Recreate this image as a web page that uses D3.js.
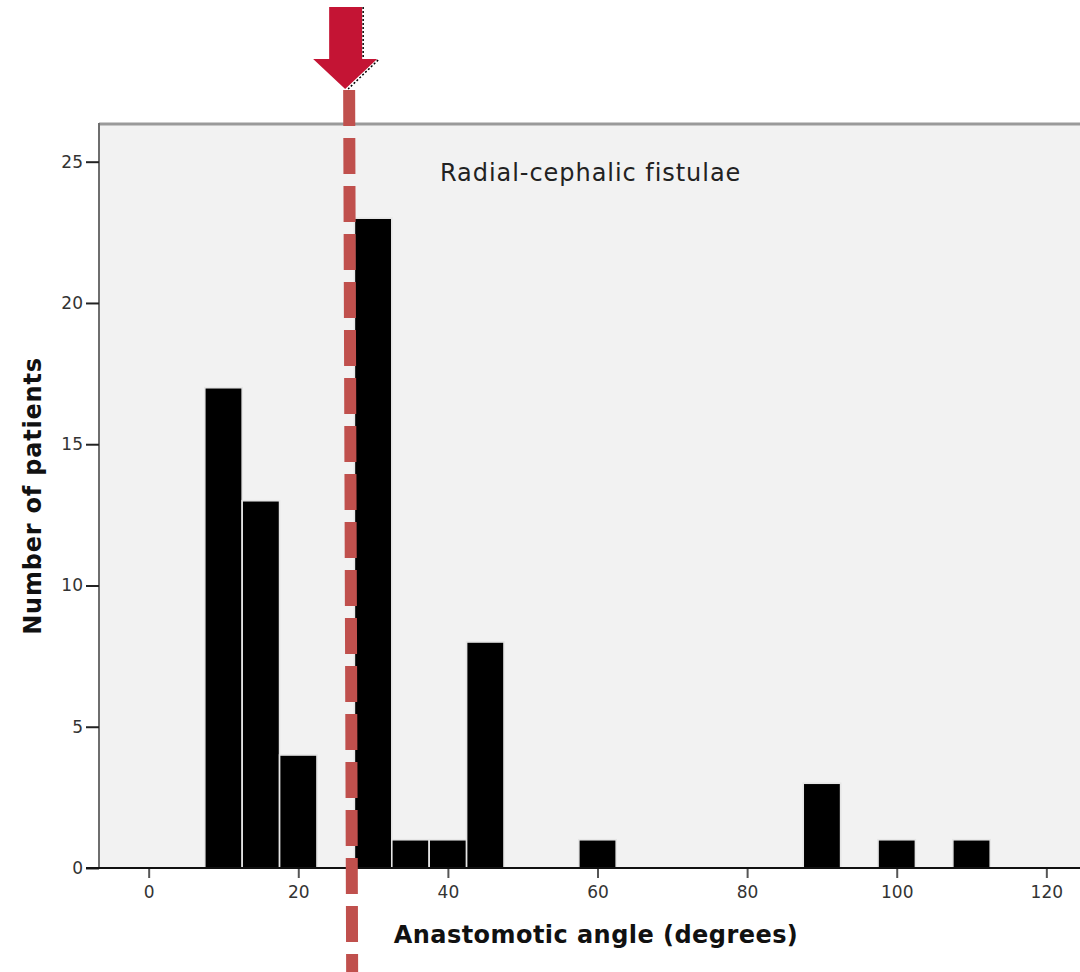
<!DOCTYPE html>
<html>
<head>
<meta charset="utf-8">
<script src="https://cdn.jsdelivr.net/npm/d3@7"></script>
<style>
  html, body { margin: 0; padding: 0; background: #ffffff; }
  svg { display: block; }
</style>
</head>
<body>
<svg id="chart" width="1080" height="972"></svg>
<script>
// Histogram of anastomotic angles, 5-degree bins (bin centres in degrees)
const binCentres = [10, 15, 20, 30, 35, 40, 45, 60, 90, 100, 110];
const patientCounts = [17, 13, 4, 23, 1, 1, 8, 1, 3, 1, 1];
const binWidth = 5;
const xTicks = [0, 20, 40, 60, 80, 100, 120];
const yTicks = [0, 5, 10, 15, 20, 25];
const markerAngle = 26.8;   // threshold marked by the red dashed line
const titleText = "Radial-cephalic fistulae";
const xLabel = "Anastomotic angle (degrees)";
const yLabel = "Number of patients";

const svg = d3.select("#chart");
const font = "'DejaVu Sans', Verdana, sans-serif";

const plot = { left: 99, top: 125, right: 1080, bottom: 868 };

const x = d3.scaleLinear().domain([-6.64, 124.5]).range([plot.left, plot.right]);
const y = d3.scaleLinear().domain([0, 25]).range([plot.bottom, 161.7]);

// plot background
svg.append("rect")
  .attr("x", plot.left).attr("y", plot.top)
  .attr("width", plot.right - plot.left).attr("height", plot.bottom - plot.top)
  .attr("fill", "#f2f2f2");

// frame: top and left edges
svg.append("line")
  .attr("x1", plot.left).attr("x2", plot.right)
  .attr("y1", plot.top - 1).attr("y2", plot.top - 1)
  .attr("stroke", "#9a9a9a").attr("stroke-width", 3);
svg.append("line")
  .attr("x1", plot.left).attr("x2", plot.left)
  .attr("y1", plot.top - 2).attr("y2", plot.bottom)
  .attr("stroke", "#6e6e6e").attr("stroke-width", 2);

// bars
const bins = binCentres.map((c, i) => ({ c, n: patientCounts[i] }));
svg.append("g").selectAll("rect").data(bins).join("rect")
  .attr("x", d => x(d.c - binWidth / 2))
  .attr("y", d => y(d.n))
  .attr("width", d => x(d.c + binWidth / 2) - x(d.c - binWidth / 2))
  .attr("height", d => y(0) - y(d.n))
  .attr("fill", "#000")
  .attr("stroke", "#e6e6e6")
  .attr("stroke-width", 1.6);

// x axis
const xAxis = svg.append("g")
  .attr("transform", `translate(0,${plot.bottom})`)
  .call(d3.axisBottom(x).tickValues(xTicks).tickSize(10).tickPadding(8).tickFormat(d3.format("d")));
xAxis.select(".domain").remove();
xAxis.selectAll(".tick line").attr("stroke", "#555").attr("stroke-width", 2);
xAxis.selectAll(".tick text")
  .attr("font-family", font).attr("font-size", 17).attr("fill", "#333");

// y axis
const yAxis = svg.append("g")
  .attr("transform", `translate(${plot.left},0)`)
  .call(d3.axisLeft(y).tickValues(yTicks).tickSize(13).tickPadding(3).tickFormat(d3.format("d")));
yAxis.select(".domain").remove();
yAxis.selectAll(".tick line").attr("stroke", "#222").attr("stroke-width", 2);
yAxis.selectAll(".tick text")
  .attr("font-family", font).attr("font-size", 17).attr("fill", "#333");

// baseline
svg.append("line")
  .attr("x1", 86).attr("x2", plot.right)
  .attr("y1", plot.bottom).attr("y2", plot.bottom)
  .attr("stroke", "#111").attr("stroke-width", 2);

// chart title inside the plot
svg.append("text")
  .attr("x", 440).attr("y", 181)
  .attr("font-family", font).attr("font-size", 24).attr("letter-spacing", 0.95).attr("fill", "#222")
  .text(titleText);

// axis titles
svg.append("text")
  .attr("x", 596).attr("y", 943)
  .attr("text-anchor", "middle")
  .attr("font-family", font).attr("font-size", 24).attr("letter-spacing", 0.45)
  .attr("font-weight", "bold").attr("fill", "#111")
  .text(xLabel);
svg.append("text")
  .attr("transform", "translate(41,496) rotate(-90)")
  .attr("text-anchor", "middle")
  .attr("font-family", font).attr("font-size", 24).attr("letter-spacing", 0.8)
  .attr("font-weight", "bold").attr("fill", "#111")
  .text(yLabel);

// red dashed threshold line
svg.append("line")
  .attr("x1", x(markerAngle)).attr("y1", 90)
  .attr("x2", x(markerAngle + 0.4)).attr("y2", 972)
  .attr("stroke", "#c0504d").attr("stroke-width", 12)
  .attr("stroke-dasharray", "36 12");

// arrow pointing at the threshold
const ax = x(markerAngle) - 4;
const arrowPts = [
  [ax - 16, 7], [ax + 17, 7], [ax + 17, 59], [ax + 32, 59],
  [ax, 89], [ax - 32, 59], [ax - 16, 59]
];
svg.append("polygon")
  .attr("points", arrowPts.map(p => p.join(",")).join(" "))
  .attr("fill", "#c41434");
svg.append("path")
  .attr("d", d3.line()([[ax + 18, 7], [ax + 18, 59]]) + d3.line()([[ax + 33, 60], [ax + 3, 89]]))
  .attr("fill", "none").attr("stroke", "#000").attr("stroke-width", 1.5)
  .attr("stroke-dasharray", "2 2");
</script>
</body>
</html>
